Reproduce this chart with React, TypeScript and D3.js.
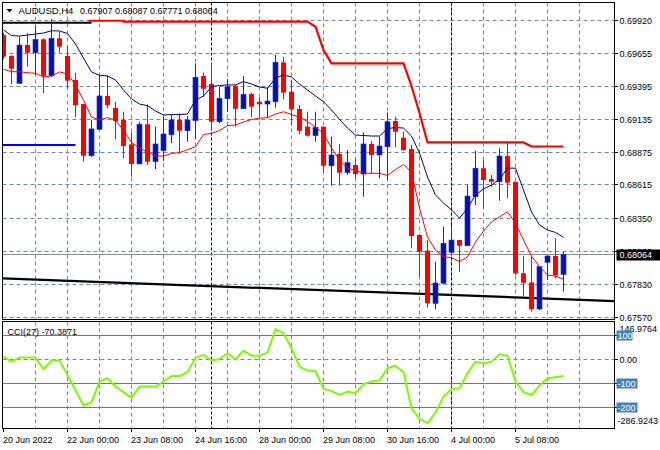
import React from 'react';
import * as d3 from 'd3';

// ---------- data ----------
const symbolTitle = 'AUDUSD,H4';
const ohlcTitle = '0.67907 0.68087 0.67771 0.68064';
const cciTitle = 'CCI(27) -70.3871';
const currentPrice = 0.68064;

const opens = [
  0.69801, 0.69635, 0.69419, 0.69722, 0.69661, 0.69767, 0.69479, 0.69775, 0.69635, 0.69445,
  0.69255, 0.68846, 0.69055, 0.69319, 0.69224, 0.69129, 0.68936, 0.68781, 0.69095, 0.68799,
  0.68886, 0.69012, 0.69129, 0.69044, 0.69123, 0.69477, 0.69414, 0.69115, 0.69297, 0.69398,
  0.69218, 0.69334, 0.69273, 0.69255, 0.69273, 0.69585, 0.69353, 0.69216, 0.69076, 0.69005,
  0.69076, 0.68767, 0.68860, 0.68712, 0.68773, 0.68701, 0.68939, 0.68852, 0.68917, 0.69121,
  0.68989, 0.68899, 0.68219, 0.68095, 0.67678, 0.67837, 0.68082, 0.68179, 0.68134, 0.68522,
  0.68747, 0.68662, 0.68640, 0.68844, 0.68640, 0.67916, 0.67844, 0.67633, 0.68003, 0.68053,
  0.67907,
];
const highs = [
  0.69820, 0.69641, 0.69788, 0.69815, 0.69873, 0.69775, 0.69926, 0.69827, 0.69714, 0.69503,
  0.69255, 0.69129, 0.69485, 0.69485, 0.69273, 0.69194, 0.69028, 0.69115, 0.69253, 0.69076,
  0.69155, 0.69168, 0.69182, 0.69160, 0.69577, 0.69503, 0.69582, 0.69392, 0.69451, 0.69406,
  0.69477, 0.69345, 0.69308, 0.69387, 0.69643, 0.69630, 0.69445, 0.69247, 0.69194, 0.69194,
  0.69076, 0.68997, 0.68939, 0.68891, 0.68826, 0.69031, 0.68963, 0.68997, 0.69187, 0.69155,
  0.69036, 0.68931, 0.68219, 0.68179, 0.68007, 0.68284, 0.68298, 0.68179, 0.68614, 0.68886,
  0.68812, 0.68693, 0.68905, 0.68949, 0.68640, 0.68053, 0.68047, 0.67968, 0.68053, 0.68193,
  0.68087,
];
const lows = [
  0.69609, 0.69414, 0.69414, 0.69550, 0.69485, 0.69340, 0.69471, 0.69661, 0.69380, 0.69150,
  0.68799, 0.68838, 0.69050, 0.69221, 0.68976, 0.68826, 0.68680, 0.68781, 0.68773, 0.68741,
  0.68807, 0.68944, 0.68865, 0.68957, 0.68978, 0.69313, 0.69050, 0.69103, 0.69194, 0.69076,
  0.69218, 0.69150, 0.69150, 0.69142, 0.69226, 0.69292, 0.69089, 0.69018, 0.68997, 0.68957,
  0.68720, 0.68609, 0.68609, 0.68693, 0.68667, 0.68522, 0.68701, 0.68667, 0.68654, 0.68913,
  0.68886, 0.68114, 0.67889, 0.67647, 0.67631, 0.67831, 0.68074, 0.67928, 0.68134, 0.68456,
  0.68430, 0.68601, 0.68490, 0.68509, 0.67902, 0.67730, 0.67612, 0.67625, 0.67863, 0.67876,
  0.67771,
];
const closes = [
  0.69630, 0.69535, 0.69722, 0.69661, 0.69767, 0.69479, 0.69775, 0.69709, 0.69440, 0.69247,
  0.68846, 0.69058, 0.69319, 0.69247, 0.69121, 0.68923, 0.68781, 0.69095, 0.68799, 0.68939,
  0.69018, 0.69129, 0.69044, 0.69129, 0.69467, 0.69376, 0.69115, 0.69300, 0.69392, 0.69218,
  0.69332, 0.69234, 0.69253, 0.69279, 0.69585, 0.69345, 0.69213, 0.69044, 0.69005, 0.69071,
  0.68767, 0.68852, 0.68712, 0.68791, 0.68701, 0.68939, 0.68852, 0.68923, 0.69115, 0.69036,
  0.68891, 0.68211, 0.68087, 0.67678, 0.67839, 0.68153, 0.68179, 0.68134, 0.68527, 0.68747,
  0.68654, 0.68640, 0.68844, 0.68633, 0.67916, 0.67841, 0.67633, 0.67968, 0.68053, 0.67902,
  0.68064,
];

// upper (navy) moving average
const maUpper = [
  0.69841, 0.69797, 0.69793, 0.69801, 0.69809, 0.69817, 0.69835, 0.69833, 0.69813, 0.69730,
  0.69619, 0.69509, 0.69482, 0.69477, 0.69445, 0.69366, 0.69295, 0.69255, 0.69242, 0.69200,
  0.69168, 0.69172, 0.69172, 0.69176, 0.69287, 0.69319, 0.69392, 0.69402, 0.69406, 0.69406,
  0.69432, 0.69414, 0.69390, 0.69380, 0.69461, 0.69485, 0.69469, 0.69414, 0.69366, 0.69319,
  0.69273, 0.69208, 0.69133, 0.69065, 0.69010, 0.69006, 0.69002, 0.69002, 0.69061, 0.69069,
  0.69065, 0.69002, 0.68868, 0.68678, 0.68535, 0.68472, 0.68417, 0.68353, 0.68430, 0.68535,
  0.68583, 0.68614, 0.68658, 0.68749, 0.68747, 0.68575, 0.68401, 0.68298, 0.68258, 0.68239,
  0.68200,
];
// lower (red) moving average
const maLower = [
  0.69530, 0.69511, 0.69511, 0.69503, 0.69498, 0.69469, 0.69477, 0.69509, 0.69493, 0.69406,
  0.69287, 0.69152, 0.69129, 0.69148, 0.69125, 0.69050, 0.68951, 0.68907, 0.68875, 0.68844,
  0.68844, 0.68864, 0.68870, 0.68895, 0.68917, 0.69014, 0.69023, 0.69046, 0.69085, 0.69089,
  0.69113, 0.69133, 0.69142, 0.69148, 0.69176, 0.69194, 0.69172, 0.69152, 0.69117, 0.69073,
  0.69023, 0.68907, 0.68812, 0.68749, 0.68728, 0.68709, 0.68707, 0.68707, 0.68690, 0.68737,
  0.68777, 0.68717, 0.68432, 0.68203, 0.68100, 0.68047, 0.68039, 0.68009, 0.68045, 0.68163,
  0.68250, 0.68322, 0.68361, 0.68403, 0.68311, 0.68179, 0.68053, 0.67968, 0.67902, 0.67894,
  0.67868,
];
// CCI(27)
const cciValues = [
  10.8, -10, 6.7, 6.7, 6.7, -41.7, -5.8, -5.8, -65.4, -128,
  -193, -179, -93, -79, -114, -137.5, -160, -114, -114, -114,
  -93, -70, -70, -54, 6.7, 18, -6, 1, 25, 0,
  36, 15, 15, 27.5, 126, 108, 46, -31, -47.5, -49,
  -124, -132, -149, -135, -142, -104, -93, -89, -37.5, -27,
  -54, -204, -249, -267, -222.5, -156, -124, -121, -58, -10,
  -17, -10, 21, 15, -93, -137.5, -149, -110, -79, -75,
  -70.3871,
];
// thick red stepped line: [bar index, price]
const resistancePoints: [number, number][] = [
  [10.6, 0.69914], [15, 0.69914], [15, 0.69907], [38, 0.69907], [39, 0.69867],
  [40, 0.69683], [41, 0.69577], [50, 0.69577], [51, 0.69398], [52, 0.69184],
  [53, 0.68951], [65, 0.68951], [66, 0.68919], [70, 0.68919],
];
// trendline anchors: [bar index, price]
const trendAnchors: [number, number][] = [[0, 0.67875], [70, 0.67711]];
// horizontal segments: [start index, end index, price]
const blackSegment = [0, 11, 0.69899];
const blueSegment = [0, 9, 0.68931];

const priceTicks = [0.6992, 0.69655, 0.69395, 0.69135, 0.68875, 0.68615, 0.6835, 0.6809, 0.6783, 0.6757];
const priceTickLabels = ['0.69920', '0.69655', '0.69395', '0.69135', '0.68875', '0.68615', '0.68350', '0.68090', '0.67830', '0.67570'];
const timeLabelIdx = [0, 8, 16, 24, 32, 40, 48, 56, 64];
const timeLabels = ['20 Jun 2022', '22 Jun 00:00', '23 Jun 08:00', '24 Jun 16:00', '28 Jun 00:00', '29 Jun 08:00', '30 Jun 16:00', '4 Jul 00:00', '5 Jul 08:00'];
const weekStartIdx = [26, 56];
const cciLevels = [100, -100, -200];
const cciLevelLabels = ['100', '-100', '-200'];
const cciMax = 146.9764;
const cciMin = -286.9243;

// ---------- layout ----------
const W = 660;
const H = 450;
const L = 2.5;
const R = 614.5;
const mainTop = 2.5;
const mainBottom = 319.5;
const cciTop = 321.5;
const cciBottom = 428.5;
const FONT = '"Liberation Sans", Arial, sans-serif';

const BULL_FILL = '#0b12a4';
const BULL_LINE = '#0a2ae0';
const BEAR = '#ff0000';
const GRID = '#778899';

export default function App() {
  const x = d3.scaleLinear().domain([0, 70]).range([3.5, 563.5]);
  const y = d3.scaleLinear().domain([0.6757, 0.6992]).range([317, 20]);
  const yc = d3.scaleLinear().domain([cciMin, cciMax]).range([428, 324]);

  const seriesLine = d3.line<number>().x((_, i) => x(i)).y((d) => y(d));
  const ptLine = d3.line<[number, number]>().x((d) => x(d[0])).y((d) => y(d[1]));
  const cciLine = d3.line<number>().x((_, i) => x(i)).y((d) => yc(d));

  const slope = (trendAnchors[1][1] - trendAnchors[0][1]) / (trendAnchors[1][0] - trendAnchors[0][0]);
  const trendPts: [number, number][] = [
    [-2, trendAnchors[0][1] - 2 * slope],
    [82, trendAnchors[0][1] + 82 * slope],
  ];

  const gridX: number[] = d3.range(4, 73, 4).map((i) => x(i));
  const crisp = (v: number) => Math.round(v - 0.5) + 0.5;

  const bidY = crisp(y(currentPrice));

  return (
    <div style={{ position: 'absolute', left: 0, top: 0, width: W, height: H, background: '#fff' }}>
      <svg width={W} height={H} style={{ display: 'block', fontFamily: FONT }}>
        <defs>
          <clipPath id="mainClip">
            <rect x={L + 0.5} y={mainTop + 0.5} width={R - L - 1} height={mainBottom - mainTop - 1} />
          </clipPath>
          <clipPath id="cciClip">
            <rect x={L + 0.5} y={cciTop + 0.5} width={R - L - 1} height={cciBottom - cciTop - 1} />
          </clipPath>
        </defs>
        <rect x={0} y={0} width={W} height={H} fill="#fff" />

        {/* main grid */}
        <g stroke={GRID} strokeWidth={1} strokeDasharray="4,3" fill="none">
          {priceTicks.map((p, i) => (
            <line key={'h' + i} x1={L} x2={R} y1={crisp(y(p))} y2={crisp(y(p))} />
          ))}
          {gridX.map((gx, i) => (
            <line key={'v' + i} x1={gx} x2={gx} y1={mainTop} y2={mainBottom} />
          ))}
          {gridX.map((gx, i) => (
            <line key={'cv' + i} x1={gx} x2={gx} y1={cciTop} y2={cciBottom} />
          ))}
          <line x1={L} x2={R} y1={crisp(yc(0))} y2={crisp(yc(0))} />
        </g>
        {/* period separators */}
        <g stroke="#000" strokeWidth={1} strokeDasharray="3,2">
          {weekStartIdx.map((w, i) => (
            <g key={'w' + i}>
              <line x1={x(w)} x2={x(w)} y1={mainTop} y2={mainBottom} />
              <line x1={x(w)} x2={x(w)} y1={cciTop} y2={cciBottom} />
            </g>
          ))}
        </g>

        <g clipPath="url(#mainClip)">
          {/* bid line */}
          <line x1={L} x2={R} y1={bidY} y2={bidY} stroke="#8a8f98" strokeWidth={1} />
          {/* trendline & segments */}
          <path d={ptLine(trendPts) || ''} stroke="#000" strokeWidth={2.2} fill="none" />
          <line x1={L} x2={x(blackSegment[1])} y1={y(blackSegment[2])} y2={y(blackSegment[2])} stroke="#000" strokeWidth={2} />
          <line x1={L} x2={x(blueSegment[1])} y1={y(blueSegment[2])} y2={y(blueSegment[2])} stroke="#0000ff" strokeWidth={2} />

          {/* candles */}
          {opens.map((o, i) => {
            const c = closes[i];
            const bull = c >= o;
            const cx = x(i);
            const yTop = y(Math.max(o, c));
            const yBot = y(Math.min(o, c));
            const col = bull ? BULL_LINE : BEAR;
            return (
              <g key={'c' + i}>
                <line x1={cx} x2={cx} y1={y(highs[i])} y2={y(lows[i])} stroke={col} strokeWidth={1} />
                <rect
                  x={cx - 2.5}
                  y={yTop}
                  width={5}
                  height={Math.max(1, yBot - yTop)}
                  fill={bull ? BULL_FILL : BEAR}
                  stroke={bull ? BULL_LINE : 'none'}
                  strokeWidth={bull ? 0.6 : 0}
                />
              </g>
            );
          })}

          {/* moving averages */}
          <path d={seriesLine(maUpper) || ''} stroke="#000080" strokeWidth={1} fill="none" />
          <path d={seriesLine(maLower) || ''} stroke="#ff0000" strokeWidth={1} fill="none" />
          <path d={ptLine(resistancePoints) || ''} stroke="#ff0000" strokeWidth={2.2} fill="none" />
        </g>

        {/* CCI */}
        <g clipPath="url(#cciClip)">
          {cciLevels.map((lv, i) => (
            <line key={'lv' + i} x1={L} x2={R} y1={crisp(yc(lv))} y2={crisp(yc(lv))} stroke="#4682b4" strokeWidth={1} />
          ))}
          <path d={cciLine(cciValues) || ''} stroke="#7cfc00" strokeWidth={2} fill="none" strokeLinejoin="round" />
        </g>

        {/* frames */}
        <g stroke="#000" strokeWidth={1} fill="none">
          <rect x={L} y={mainTop} width={R - L} height={mainBottom - mainTop} />
          <rect x={L} y={cciTop} width={R - L} height={cciBottom - cciTop} />
        </g>

        {/* price axis */}
        <g fontSize={9} fill="#000">
          {priceTicks.map((p, i) => {
            const ty = crisp(y(p));
            return (
              <g key={'pt' + i}>
                <line x1={R} x2={R + 3.5} y1={ty} y2={ty} stroke="#000" />
                <text x={619.5} y={ty + 3.5}>{priceTickLabels[i]}</text>
              </g>
            );
          })}
        </g>
        {/* current price label */}
        <rect x={616.5} y={bidY - 5} width={44} height={11} fill="#000" />
        <text x={619.5} y={bidY + 3.5} fontSize={9} fill="#fff">{currentPrice.toFixed(5)}</text>

        {/* CCI axis */}
        <g fontSize={9}>
          <line x1={R} x2={R + 3.5} y1={crisp(yc(0))} y2={crisp(yc(0))} stroke="#000" />
          <text x={619.5} y={331.5} fill="#000">{cciMax.toFixed(4)}</text>
          <text x={619.5} y={crisp(yc(0)) + 3.5} fill="#000">0.00</text>
          <text x={617.5} y={424} fill="#000">{cciMin.toFixed(4)}</text>
          {cciLevels.map((lv, i) => {
            const ly = crisp(yc(lv));
            const w = cciLevelLabels[i].length * 5 + 1;
            return (
              <g key={'cl' + i}>
                <line x1={R} x2={R + 3.5} y1={ly} y2={ly} stroke="#000" />
                <rect x={616.5} y={ly - 5} width={w} height={10} fill="#4682b4" />
                <text x={617.5} y={ly + 3.5} fill="#fff">{cciLevelLabels[i]}</text>
              </g>
            );
          })}
        </g>

        {/* time axis */}
        <g fontSize={9} fill="#000">
          {timeLabelIdx.map((ti, i) => (
            <g key={'tl' + i}>
              <line x1={x(ti)} x2={x(ti)} y1={cciBottom} y2={cciBottom + 3.5} stroke="#000" />
              <text x={ti === 0 ? 3 : x(ti) - 0.5} y={442.5}>{timeLabels[i]}</text>
            </g>
          ))}
        </g>

        {/* titles */}
        <path d="M6.5,9 L12.5,9 L9.5,12.5 Z" fill="#000" />
        <text x={18.5} y={14} fontSize={9.5} fill="#000">{symbolTitle}</text>
        <text x={80} y={14} fontSize={9} fill="#000">{ohlcTitle}</text>
        <text x={7.5} y={335} fontSize={9} fill="#000">{cciTitle}</text>
      </svg>
    </div>
  );
}
